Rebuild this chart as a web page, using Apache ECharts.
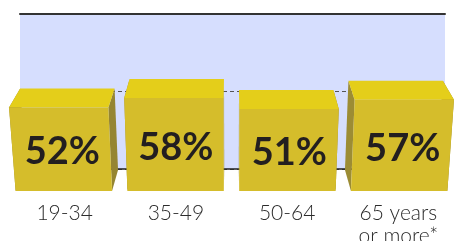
<!DOCTYPE html>
<html>
<head>
<meta charset="utf-8">
<script src="https://cdn.jsdelivr.net/npm/echarts@6/dist/echarts.min.js"></script>
<style>
  html, body { margin: 0; padding: 0; background: #fff; }
  #chart { width: 454px; height: 241px; }
</style>
</head>
<body>
<div id="chart"></div>
<script>
const categories = ['19-34', '35-49', '50-64', '65 years\nor more*']
const values = [52, 58, 51, 57]
const yTicks = [0, 50, 100]

const chart = echarts.init(document.getElementById('chart'))

// little perspective helper, boxes lean toward the middle of the plot
const persp = (x, vx, s) => vx + (x - vx) * s

const renderBox = (params, api) => {
  const i = api.value(0)
  const v = api.value(1)
  const top = api.coord([i, v])
  const base = api.coord([i, 0])
  const half = api.size([1, 0])[0] * 0.44
  const vx = params.coordSys.x + params.coordSys.width / 2

  const c = persp(top[0], vx, 1.02)
  const L = c - half
  const R = c + half

  const ft = top[1] + 19
  const fb = base[1] + 22
  const bt = top[1]
  const bb = base[1] + 1

  const fTL = [persp(L, vx, 1.015), ft]
  const fTR = [persp(R, vx, 1.015), ft]
  const fBL = [persp(L, vx, 0.985), fb]
  const fBR = [persp(R, vx, 0.985), fb]
  const bTL = [persp(fTL[0], vx, 0.95), bt]
  const bTR = [persp(fTR[0], vx, 0.95), bt]
  const bBL = [persp(fBL[0], vx, 0.95), bb]
  const bBR = [persp(fBR[0], vx, 0.95), bb]

  return {
    type: 'group',
    children: [
      { type: 'polygon', shape: { points: [bTL, fTL, fBL, bBL] }, style: { fill: '#9C8C34' } },
      { type: 'polygon', shape: { points: [bTR, fTR, fBR, bBR] }, style: { fill: '#958532' } },
      { type: 'polygon', shape: { points: [bTL, bTR, fTR, fTL] }, style: { fill: '#E4CE1A' } },
      { type: 'polygon', shape: { points: [fTL, fTR, fBR, fBL] }, style: { fill: '#D5BD2B' } },
      {
        type: 'text',
        style: {
          x: (fTL[0] + fTR[0] + fBL[0] + fBR[0]) / 4 + 1,
          y: (ft + fb) / 2 + 3,
          text: v + '%',
          fill: '#231F20',
          font: 'bold 38px Lato',
          align: 'center',
          verticalAlign: 'middle',
        },
      },
    ],
  }
}

const option = {
  animation: false,
  grid: [
    { left: 9, right: 0, top: 14, bottom: 72, outerBoundsMode: 'none' },
    {
      left: 20, right: 9, top: 14, bottom: 72, outerBoundsMode: 'none',
      show: true, backgroundColor: '#D6DEFE', borderWidth: 0,
    },
  ],
  xAxis: [
    {
      type: 'category',
      gridIndex: 0,
      data: categories,
      axisLine: { show: false },
      axisTick: { show: false },
      axisLabel: {
        margin: 33,
        fontSize: 21,
        fontFamily: 'Lato',
        fontWeight: 300,
        color: '#2B2B2B',
        lineHeight: 23,
        interval: 0,
      },
    },
    {
      type: 'value',
      gridIndex: 1,
      position: 'top',
      min: 0,
      max: 1,
      axisLine: { show: true, onZero: false, lineStyle: { color: '#333', width: 2 } },
      axisTick: { show: false },
      axisLabel: { show: false },
      splitLine: { show: false },
      z: 3,
    },
    {
      type: 'value',
      gridIndex: 1,
      position: 'bottom',
      min: 0,
      max: 1,
      axisLine: { show: true, onZero: false, lineStyle: { color: '#222', width: 1.5 } },
      axisTick: { show: false },
      axisLabel: { show: false },
      splitLine: { show: false },
      z: 3,
    },
  ],
  yAxis: [
    { type: 'value', gridIndex: 0, min: 0, max: 100, show: false },
    {
      type: 'value',
      gridIndex: 1,
      min: yTicks[0],
      max: yTicks[yTicks.length - 1],
      interval: yTicks[1] - yTicks[0],
      axisLine: { show: false },
      axisTick: { show: false },
      axisLabel: { show: false },
      splitLine: { show: true, lineStyle: { color: '#555', width: 1, type: [4, 3] } },
    },
  ],
  series: [
    {
      type: 'custom',
      xAxisIndex: 0,
      yAxisIndex: 0,
      data: values.map((v, i) => [i, v]),
      renderItem: renderBox,
      clip: false,
      z: 5,
    },
  ],
}

chart.setOption(option)
</script>
</body>
</html>
